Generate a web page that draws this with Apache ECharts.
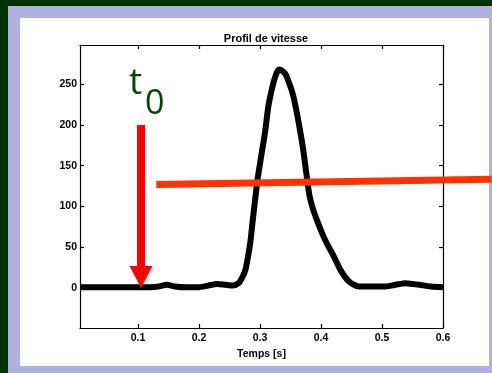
<!DOCTYPE html>
<html>
<head>
<meta charset="utf-8">
<script src="https://cdn.jsdelivr.net/npm/echarts@6/dist/echarts.min.js"></script>
<style>
body { margin: 0; background: #003300; }
#frame { position: absolute; left: 8px; top: 6px; width: 484px; height: 367px; background: #b0b1e0; }
#panel { position: absolute; left: 20px; top: 18px; width: 469px; height: 348px; background: #fff; }
#main { position: absolute; left: 0; top: 0; width: 492px; height: 373px; }
</style>
</head>
<body>
<div id="frame"></div>
<div id="panel"></div>
<div id="main"></div>
<script>
// profil de vitesse
let temps = [0.005, 0.03, 0.06, 0.09, 0.12, 0.135, 0.147, 0.16, 0.18, 0.2, 0.215, 0.23, 0.243, 0.255, 0.265, 0.271, 0.276, 0.28, 0.284, 0.288, 0.292, 0.296, 0.301, 0.3085, 0.314, 0.3225, 0.328, 0.332, 0.337, 0.342, 0.347, 0.353, 0.358, 0.366, 0.371, 0.377, 0.381, 0.386, 0.394, 0.402, 0.41, 0.419, 0.426, 0.432, 0.439, 0.446, 0.454, 0.462, 0.48, 0.506, 0.522, 0.539, 0.55, 0.561, 0.58, 0.6];
let vitesse = [1, 1, 1, 1, 1, 2, 4, 2, 1, 1, 3, 5, 4, 3, 6, 13, 22, 37, 55, 82, 108, 133, 157, 192, 224, 253, 265, 268, 266, 262, 253, 240, 224, 192, 169, 135, 114, 99, 82, 67, 54, 42, 31, 22, 14, 8, 4, 2, 2, 2, 4, 6, 5, 4, 2, 1];
let xTicks = [0.1, 0.2, 0.3, 0.4, 0.5, 0.6];
let yTicks = [0, 50, 100, 150, 200, 250];

// annotations (t0 + trait rouge), en coordonnees des donnees
let t0Fleche = [0.105, 200, 0];
let traitRouge = [[0.13, 127], [0.68, 133.4]];

let chart = echarts.init(document.getElementById('main'));

let police = 'Liberation Sans, Arial, sans-serif';
let lbl = { color: '#000', fontSize: 10.5, fontWeight: 'bold', fontFamily: police };
let ligne = { color: '#000', width: 1.2 };

let mkX = function (pos, main) {
    return {
        type: 'value', position: pos, min: 0.005, max: 0.6,
        axisLine: { show: true, onZero: false, lineStyle: ligne },
        axisTick: { show: true, inside: true, length: 4, customValues: xTicks, lineStyle: ligne },
        axisLabel: main ? Object.assign({ customValues: xTicks, margin: 5, formatter: v => v.toFixed(1) }, lbl) : { show: false },
        splitLine: { show: false },
        name: main ? 'Temps [s]' : '', nameLocation: 'middle', nameGap: 19,
        nameTextStyle: lbl
    };
};
let mkY = function (pos, main) {
    return {
        type: 'value', position: pos, min: -49, max: 298,
        axisLine: { show: true, onZero: false, lineStyle: ligne },
        axisTick: { show: true, inside: true, length: 4, customValues: yTicks, lineStyle: ligne },
        axisLabel: main ? Object.assign({ customValues: yTicks, margin: 3 }, lbl) : { show: false },
        splitLine: { show: false }
    };
};

chart.setOption({
    animation: false,
    backgroundColor: 'transparent',
    title: {
        text: 'Profil de vitesse', left: 261, top: 28, textAlign: 'center',
        textStyle: { color: '#000', fontSize: 11, fontWeight: 'bold', fontFamily: police }
    },
    grid: { left: 80, right: 49, top: 45, bottom: 45, containLabel: false },
    xAxis: [mkX('bottom', true), mkX('top', false)],
    yAxis: [mkY('left', true), mkY('right', false)],
    series: [{
        type: 'line',
        data: temps.map((t, i) => [t, vitesse[i]]),
        smooth: 0.25,
        showSymbol: false,
        lineStyle: { color: '#000', width: 6, cap: 'butt', join: 'round' },
        z: 3
    }]
});

// fleche t0 et trait rouge
let px = p => chart.convertToPixel({ xAxisIndex: 0, yAxisIndex: 0 }, p);
let haut = px([t0Fleche[0], t0Fleche[1]]);
let pointe = px([t0Fleche[0], t0Fleche[2]]);
let a = px(traitRouge[0]), b = px(traitRouge[1]);
let tete = 22;

chart.setOption({
    graphic: [
        { type: 'rect', z: 10, shape: { x: pointe[0] - 4, y: haut[1], width: 8, height: pointe[1] - tete - haut[1] + 1 }, style: { fill: '#ff0000' } },
        { type: 'polygon', z: 10, shape: { points: [[pointe[0] - 11.5, pointe[1] - tete], [pointe[0] + 11.5, pointe[1] - tete], [pointe[0], pointe[1]]] }, style: { fill: '#ff0000' } },
        { type: 'line', z: 10, shape: { x1: a[0], y1: a[1], x2: b[0], y2: b[1] }, style: { stroke: '#ff3300', lineWidth: 7 } },
        { type: 'text', z: 10, x: 129, y: 102, style: { text: 't', font: '37px "Open Sans", sans-serif', fill: '#0a420a', textVerticalAlign: 'bottom' } },
        { type: 'text', z: 10, x: 145, y: 121, style: { text: '0', font: '34px "Open Sans", sans-serif', fill: '#0a420a', textVerticalAlign: 'bottom' } }
    ]
});
</script>
</body>
</html>
